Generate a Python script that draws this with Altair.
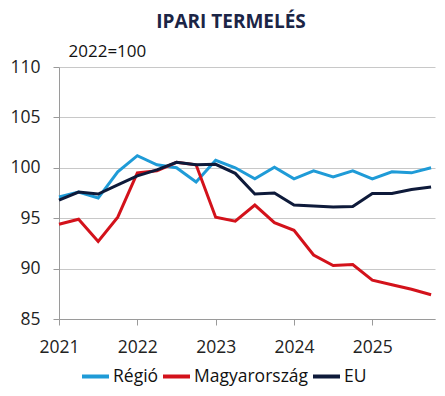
import altair as alt
import pandas as pd

quarters = [2021 + i / 4 for i in range(20)]
regio = [97.1, 97.6, 97.0, 99.6, 101.2, 100.3, 100.0, 98.6, 100.75, 100.0,
         98.9, 100.05, 98.9, 99.7, 99.1, 99.7, 98.9, 99.6, 99.5, 100.0]
magyar = [94.4, 94.9, 92.7, 95.1, 99.5, 99.7, 100.55, 100.3, 95.1, 94.7,
          96.3, 94.55, 93.8, 91.35, 90.3, 90.4, 88.85, 88.4, 87.95, 87.4]
eu = [96.8, 97.6, 97.4, 98.3, 99.2, 99.8, 100.55, 100.3, 100.35, 99.45,
      97.4, 97.5, 96.3, 96.2, 96.1, 96.15, 97.45, 97.45, 97.85, 98.1]
series_names = ["Régió", "Magyarország", "EU"]
series_colors = ["#1F9BD7", "#D3121B", "#0E1A3A"]
x_ticks = [2021, 2022, 2023, 2024, 2025]
y_ticks = [85, 90, 95, 100, 105, 110]

rows = []
for name, vals in zip(series_names, [regio, magyar, eu]):
    for q, v in zip(quarters, vals):
        rows.append({"t": q, "v": v, "s": name})
df = pd.DataFrame(rows)

font = "Open Sans"

chart = alt.Chart(df).mark_line(strokeWidth=3).encode(
    x=alt.X("t:Q", scale=alt.Scale(domain=[2021, 2025.8], nice=False, zero=False),
            axis=alt.Axis(values=x_ticks, format="d", grid=False, title=None,
                          labelFlush=False,
                          labelFontSize=17.5, labelColor="#222222", labelFont=font,
                          domainColor="#9a9a9a", tickColor="#9a9a9a", tickSize=6,
                          labelPadding=13)),
    y=alt.Y("v:Q", scale=alt.Scale(domain=[85, 110], nice=False, zero=False),
            axis=alt.Axis(values=y_ticks, grid=True, gridColor="#c8c8c8",
                          labelFlush=False,
                          labelFontSize=17.5, labelColor="#222222", labelFont=font,
                          domainColor="#9a9a9a", tickColor="#9a9a9a", tickSize=6,
                          labelPadding=13,
                          title="2022=100", titleAngle=0, titleX=9, titleY=-7,
                          titleAlign="left", titleBaseline="bottom",
                          titleFont=font, titleFontSize=17, titleFontWeight="normal",
                          titleColor="#111111")),
    color=alt.Color("s:N", sort=series_names,
                    scale=alt.Scale(domain=series_names, range=series_colors),
                    legend=alt.Legend(title=None, orient="none", direction="horizontal",
                                      legendX=21, legendY=294,
                                      symbolType="stroke", symbolSize=729,
                                      symbolStrokeWidth=4, labelFontSize=17.5,
                                      labelFont=font, labelColor="#111111",
                                      columnPadding=-4, labelOffset=2)),
).properties(
    width=376, height=252,
    padding={"left": 51, "top": 59, "right": 2, "bottom": 69},
    autosize=alt.AutoSizeParams(type="none"),
    title=alt.TitleParams("IPARI TERMELÉS", anchor="middle", frame="group",
                          dx=-16, dy=-6, fontSize=19, font=font, fontWeight="bold",
                          color="#1B2546"),
).configure_view(stroke=None)

chart.save("out.html", embed_options={"renderer": "svg", "actions": False})
